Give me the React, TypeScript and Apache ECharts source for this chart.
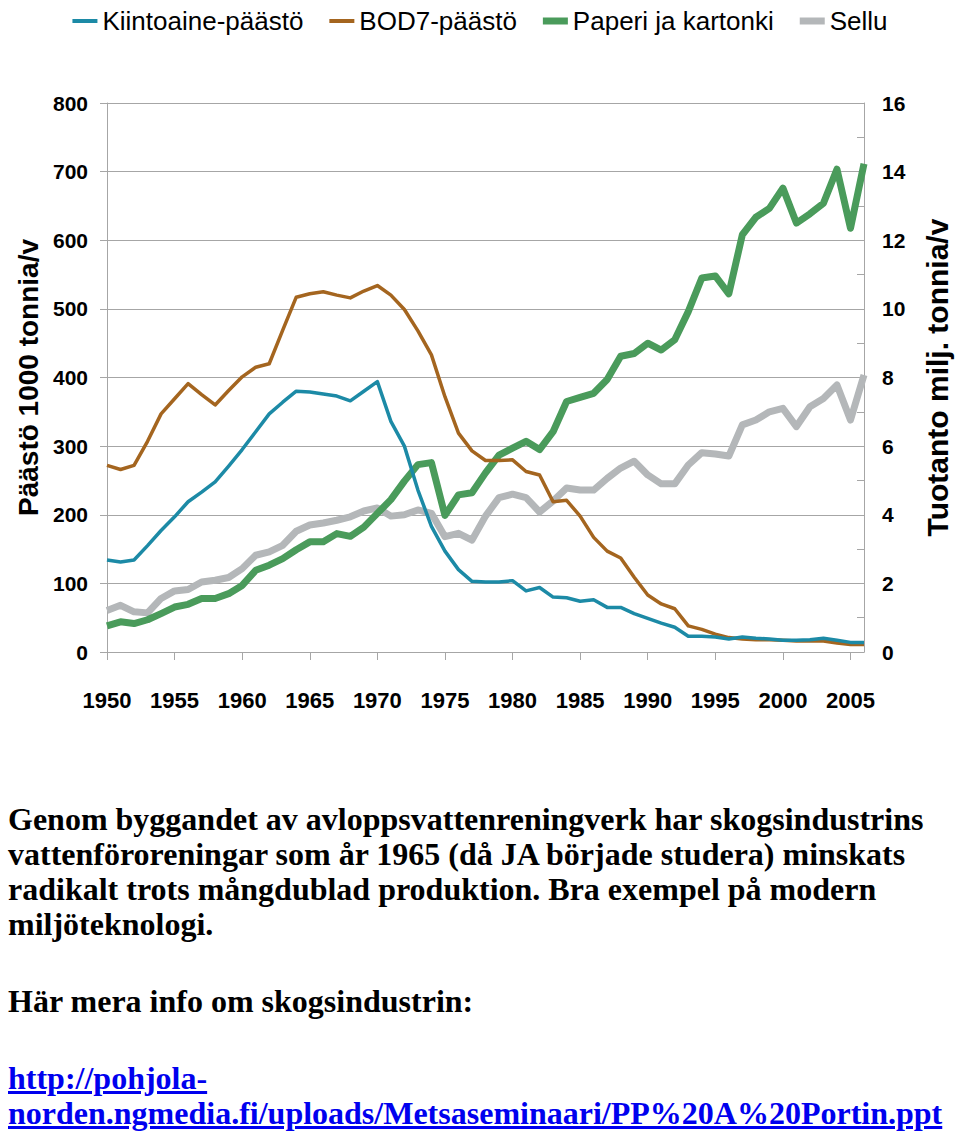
import React, { useEffect, useRef } from "react";
import * as echarts from "echarts";

const years: string[] = [];
for (let y = 1950; y <= 2006; y++) years.push(String(y));

// Päästö 1000 tonnia/v (left axis)
const kiintoaine = [
  134, 131, 134, 155, 177, 197, 219, 233, 248, 271,
  295, 321, 347, 364, 380, 379, 376, 373, 366, 380,
  394, 336, 300, 236, 183, 147, 120, 103, 102, 102,
  104, 89, 94, 80, 79, 74, 76, 65, 65, 56,
  49, 42, 36, 23, 23, 22, 19, 22, 20, 19,
  17, 17, 18, 20, 17, 14, 14,
];
const bod7 = [
  272, 266, 272, 307, 347, 369, 391, 375, 360, 381,
  401, 415, 420, 469, 517, 522, 525, 520, 516, 526,
  534, 520, 499, 468, 433, 372, 319, 293, 279, 279,
  280, 263, 258, 219, 221, 198, 167, 147, 137, 109,
  83, 70, 63, 38, 33, 26, 21, 19, 18, 18,
  17, 16, 16, 16, 13, 11, 11,
];
// Tuotanto milj. tonnia/v (right axis)
const paperi = [
  0.76, 0.88, 0.83, 0.94, 1.12, 1.31, 1.39, 1.56, 1.56, 1.7,
  1.94, 2.38, 2.53, 2.72, 2.98, 3.21, 3.21, 3.45, 3.37, 3.64,
  4.04, 4.44, 4.98, 5.46, 5.52, 3.98, 4.58, 4.64, 5.22, 5.74,
  5.94, 6.14, 5.9, 6.42, 7.3, 7.42, 7.54, 7.94, 8.62, 8.7,
  9.0, 8.8, 9.1, 9.92, 10.9, 10.96, 10.44, 12.16, 12.67, 12.93,
  13.52, 12.5, 12.77, 13.08, 14.07, 12.35, 14.23,
];
const sellu = [
  1.21, 1.36, 1.17, 1.14, 1.56, 1.78, 1.82, 2.04, 2.09, 2.17,
  2.43, 2.82, 2.92, 3.11, 3.52, 3.7, 3.76, 3.84, 3.94, 4.11,
  4.2, 3.96, 4.0, 4.14, 4.04, 3.36, 3.46, 3.26, 3.96, 4.5,
  4.6, 4.5, 4.08, 4.4, 4.78, 4.72, 4.72, 5.06, 5.36, 5.56,
  5.16, 4.9, 4.9, 5.45, 5.81, 5.77, 5.71, 6.62, 6.76, 7.0,
  7.1, 6.57, 7.15, 7.39, 7.78, 6.76, 8.07,
];

const seriesNames = ["Kiintoaine-päästö", "BOD7-päästö", "Paperi ja kartonki", "Sellu"];

const SANS = "'Liberation Sans', Arial, sans-serif";
const AXIS_GRAY = "#A6A6A6";
const THIN_ICON = "path://M0,0L0,0M0,5H25V9H0ZM25,14L25,14";
const THICK_ICON = "path://M0,0L0,0M0,3.5H25V10.5H0ZM25,14L25,14";

function Chart() {
  const ref = useRef<HTMLDivElement>(null);
  useEffect(() => {
    if (!ref.current) return;
    const chart = echarts.init(ref.current, undefined, { renderer: "svg" });
    chart.setOption({
      animation: false,
      backgroundColor: "#ffffff",
      legend: {
        data: [
          { name: seriesNames[0], icon: THIN_ICON },
          { name: seriesNames[1], icon: THIN_ICON },
          { name: seriesNames[2], icon: THICK_ICON },
          { name: seriesNames[3], icon: THICK_ICON },
        ],
        left: "center",
        top: 3,
        itemGap: 26,
        itemWidth: 25,
        itemHeight: 14,
        itemStyle: { borderWidth: 0 },
        textStyle: { fontFamily: SANS, fontSize: 26, color: "#000" },
      },
      grid: { left: 107, right: 81, top: 103, bottom: 138, containLabel: false },
      xAxis: {
        type: "category",
        data: years,
        boundaryGap: false,
        axisLine: { lineStyle: { color: AXIS_GRAY, width: 1 } },
        axisTick: {
          interval: (i: number) => i % 5 === 0,
          length: 8,
          lineStyle: { color: AXIS_GRAY },
        },
        axisLabel: {
          interval: (i: number) => i % 5 === 0,
          fontFamily: SANS,
          fontWeight: "bold",
          fontSize: 22,
          color: "#000",
          margin: 37,
        },
        splitLine: { show: false },
      },
      yAxis: [
        {
          type: "value",
          position: "left",
          min: 0,
          max: 800,
          interval: 100,
          name: "Päästö 1000 tonnia/v",
          nameLocation: "middle",
          nameRotate: 90,
          nameGap: 62,
          nameTextStyle: { fontFamily: SANS, fontWeight: "bold", fontSize: 28, color: "#000" },
          axisLine: { show: true, lineStyle: { color: AXIS_GRAY } },
          axisTick: { show: true, length: 7, lineStyle: { color: AXIS_GRAY } },
          axisLabel: { fontFamily: SANS, fontWeight: "bold", fontSize: 21, color: "#000", margin: 19 },
          splitLine: { show: true, lineStyle: { color: AXIS_GRAY, width: 1 } },
        },
        {
          type: "value",
          position: "right",
          min: 0,
          max: 16,
          interval: 1,
          name: "Tuotanto milj. tonnia/v",
          nameLocation: "middle",
          nameRotate: 90,
          nameGap: 58,
          nameTextStyle: { fontFamily: SANS, fontWeight: "bold", fontSize: 30, color: "#000" },
          axisLine: { show: true, lineStyle: { color: AXIS_GRAY } },
          axisTick: { show: true, inside: true, length: 7, lineStyle: { color: AXIS_GRAY } },
          axisLabel: {
            fontFamily: SANS,
            fontWeight: "bold",
            fontSize: 21,
            color: "#000",
            margin: 18,
            formatter: (v: number) => (v % 2 === 0 ? String(v) : ""),
          },
          splitLine: { show: false },
        },
      ],
      series: [
        {
          name: "Sellu",
          type: "line",
          yAxisIndex: 1,
          data: sellu,
          symbol: "none",
          color: "#B4B7B9",
          lineStyle: { width: 7, color: "#B4B7B9", join: "round" },
        },
        {
          name: "Paperi ja kartonki",
          type: "line",
          yAxisIndex: 1,
          data: paperi,
          symbol: "none",
          color: "#4A9B5B",
          lineStyle: { width: 7, color: "#4A9B5B", join: "round" },
        },
        {
          name: "BOD7-päästö",
          type: "line",
          yAxisIndex: 0,
          data: bod7,
          symbol: "none",
          color: "#A4651F",
          lineStyle: { width: 3.5, color: "#A4651F", join: "round" },
        },
        {
          name: "Kiintoaine-päästö",
          type: "line",
          yAxisIndex: 0,
          data: kiintoaine,
          symbol: "none",
          color: "#1C8AA6",
          lineStyle: { width: 3.5, color: "#1C8AA6", join: "round" },
        },
      ],
    });
    return () => chart.dispose();
  }, []);
  return <div ref={ref} style={{ width: 960, height: 790 }} />;
}

export default function App() {
  const textStyle: React.CSSProperties = {
    fontFamily: "'Liberation Serif', 'Times New Roman', serif",
    fontWeight: "bold",
    fontSize: 32,
    lineHeight: "35px",
    color: "#000",
    margin: 0,
    whiteSpace: "nowrap",
  };
  return (
    <div style={{ position: "absolute", left: 0, top: 0, width: 960, background: "#fff" }}>
      <Chart />
      <div style={{ paddingLeft: 8, paddingTop: 12 }}>
        <p style={textStyle}>
          Genom byggandet av avloppsvattenreningverk har skogsindustrins
          <br />
          vattenföroreningar som år 1965 (då JA började studera) minskats
          <br />
          radikalt trots mångdublad produktion. Bra exempel på modern
          <br />
          miljöteknologi.
        </p>
        <p style={{ ...textStyle, marginTop: 42 }}>Här mera info om skogsindustrin:</p>
        <p style={{ ...textStyle, marginTop: 42 }}>
          <a
            href="http://pohjola-norden.ngmedia.fi/uploads/Metsaseminaari/PP%20A%20Portin.ppt"
            style={{ color: "#0000EE", textDecoration: "underline" }}
          >
            http://pohjola-
            <br />
            norden.ngmedia.fi/uploads/Metsaseminaari/PP%20A%20Portin.ppt
          </a>
        </p>
      </div>
    </div>
  );
}
